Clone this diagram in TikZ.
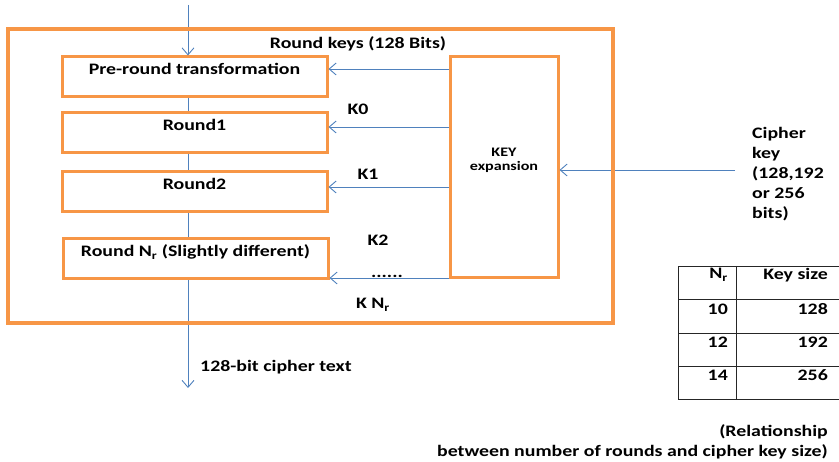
\documentclass[tikz,border=0pt]{standalone}
\usepackage{fontspec}
\setmainfont{Carlito}[FakeStretch=1.24]
\usetikzlibrary{arrows.meta,calc}
\definecolor{boxorange}{HTML}{F79646}
\definecolor{flowblue}{HTML}{4F81BD}
\tikzset{
  frame/.style={draw=boxorange,line width=3.2pt},
  stagebox/.style={draw=boxorange,line width=3pt,minimum width=265pt,inner sep=0pt,
    text height=18pt,text depth=22pt,font=\bfseries\fontsize{16}{20}\selectfont},
  keybox/.style={draw=boxorange,line width=3pt,minimum width=108pt,minimum height=221pt,inner sep=0pt},
  flow/.style={draw=flowblue,line width=0.9pt},
  feed/.style={flow,-{Straight Barb[length=7pt,width=12pt]}},
  lbl/.style={font=\bfseries\fontsize{16}{20}\selectfont,inner sep=0pt},
  small/.style={font=\bfseries\fontsize{13}{15}\selectfont,inner sep=0pt},
  grid/.style={draw=black!85,line width=0.9pt}
}
\begin{document}
\begin{tikzpicture}[x=1pt,y=-1pt]
\useasboundingbox (0,0) rectangle (839,462);

% round stages and key schedule
\node[stagebox] (pre) at (194.5,77) {Pre-round transformation};
\node[stagebox] (r1) at (194.5,133) {Round1};
\node[stagebox] (r2) at (194.5,192) {Round2};
\node[stagebox] (rn) at (195.5,259) {Round N\textsubscript{r} (Slightly different)};
\node[keybox] (key) at (504,167.5) {};
\node[small,align=center] (keytxt) at (504,160.5) {KEY\\[-1pt]expansion};

% data path
\coordinate (in) at (188,5);
\coordinate (out) at (188,388);
\draw[feed] (in) -- (in |- pre.north);
\draw[flow] (pre.south -| in) -- (r1.north -| in);
\draw[flow] (r1.south -| in) -- (r2.north -| in);
\draw[flow] (r2.south -| in) -- (rn.north -| in);
\draw[feed] (rn.south -| in) -- (out);

% round keys
\draw[feed] (key.west |- 0,69) -- (pre.east |- 0,69);
\draw[feed] (key.west |- 0,127) -- (r1.east |- 0,127);
\draw[feed] (key.west |- 0,187) -- (r2.east |- 0,187);
\draw[feed] (key.west |- 0,278) -- (rn.east |- 0,278);

% cipher key input
\coordinate (ck) at (735,170);
\draw[feed] (ck) -- (key.east |- ck);

% enclosing frame
\node[frame,minimum width=605pt,minimum height=294pt,inner sep=0pt] (outer) at (310.5,176) {};

% labels
\node[lbl] (rk) at (358,44) {Round keys (128 Bits)};
\node[lbl] (k0) at (358,109) {K0};
\node[lbl] (k1) at (368,174) {K1};
\node[lbl] (k2) at (378,240) {K2};
\node[lbl] (dots) at (387,276) {......};
\node[lbl] (kn) at (373,305) {K N\textsubscript{r}};
\node[lbl,anchor=west] (ct) at (200,367) {128-bit cipher text};
\node[lbl,anchor=north west,align=left] (cktxt) at (752,127)
  {Cipher\\key\\(128,192\\or 256\\bits)};

% table of rounds against key size
\draw[grid] (678,266) rectangle (845,399);
\draw[grid] (736,266) -- (736,399);
\foreach \yy in {299,333,366} \draw[grid] (678,\yy) -- (845,\yy);
\node[lbl,anchor=east] (h1) at (728,275) {N\textsubscript{r}};
\node[lbl,anchor=east] (h2) at (828,275) {Key size};
\node[lbl,anchor=east] (a1) at (728,309) {10};
\node[lbl,anchor=east] (a2) at (828,309) {128};
\node[lbl,anchor=east] (b1) at (728,342) {12};
\node[lbl,anchor=east] (b2) at (828,342) {192};
\node[lbl,anchor=east] (c1) at (728,375) {14};
\node[lbl,anchor=east] (c2) at (828,375) {256};
\node[lbl,anchor=east] (cap1) at (828,432) {(Relationship};
\node[lbl,anchor=east] (cap2) at (828,452) {between number of rounds and cipher key size)};
\end{tikzpicture}
\end{document}
